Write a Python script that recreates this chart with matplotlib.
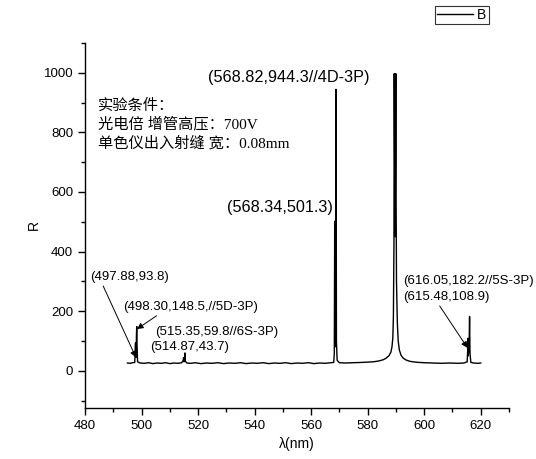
import matplotlib
matplotlib.use("Agg")
import matplotlib.pyplot as plt
from matplotlib.ticker import MultipleLocator

# Spectrum data
wavelength = [495.0, 496.0, 496.8, 497.6, 497.8, 497.88, 497.95, 498.1, 498.2, 498.30, 498.4, 498.6,
              499.5, 501.0, 502.5, 504.0, 505.5, 507.0, 508.5, 510.0, 511.5, 513.0, 514.2,
              514.75, 514.87, 515.0, 515.2, 515.35, 515.5, 516.0, 517.5, 519.0, 521.0, 523.0,
              525.0, 527.0, 529.0, 531.0, 533.0, 535.0, 537.0, 539.0, 541.0, 543.0, 545.0,
              547.0, 549.0, 551.0, 553.0, 555.0, 557.0, 559.0, 561.0, 563.0, 565.0, 567.0,
              568.0, 568.2, 568.34, 568.5, 568.7, 568.82, 568.95, 569.2, 570.0, 572.0, 575.0,
              578.0, 580.0, 582.0, 584.0, 585.5, 586.5, 587.5, 588.2, 588.6, 588.9, 589.1,
              589.3, 589.4, 589.55, 589.7, 589.85, 589.95, 590.05, 590.2, 590.5, 590.8, 591.2,
              591.8, 592.6, 593.6, 594.8, 596.0, 598.0, 600.0, 603.0, 606.0, 609.0, 612.0,
              614.0, 615.2, 615.4, 615.48, 615.6, 615.9, 616.05, 616.2, 616.5, 617.5, 619.0, 620.0]
intensity = [26, 25, 27, 28, 80, 93.8, 60, 45, 120, 148.5, 90, 30,
             26, 25, 27, 24, 26, 25, 27, 24, 26, 25, 27,
             35, 43.7, 30, 40, 59.8, 32, 26, 25, 27, 24, 26,
             25, 27, 24, 26, 25, 27, 24, 26, 25, 27, 24,
             26, 25, 27, 24, 26, 25, 27, 24, 26, 25, 27,
             28, 60, 501.3, 80, 120, 944.3, 100, 35, 27, 26, 27,
             28, 29, 30, 33, 37, 42, 50, 62, 80, 110, 180,
             420, 997, 700, 450, 700, 997, 600, 300, 160, 100, 70,
             52, 42, 36, 32, 30, 28, 27, 26, 25, 26, 25,
             26, 30, 70, 108.9, 50, 90, 182.2, 60, 28, 26, 25, 26]

peak_labels = ["(568.82,944.3//4D-3P)", "(568.34,501.3)", "(515.35,59.8//6S-3P)",
               "(514.87,43.7)", "(616.05,182.2//5S-3P)", "(497.88,93.8)",
               "(498.30,148.5,//5D-3P)", "(615.48,108.9)"]
note_lines = ["实验条件：", "光电倍 增管高压：700V", "单色仪出入射缝 宽：0.08mm"]

W, H = 536, 459
fig = plt.figure(figsize=(W / 100, H / 100), dpi=100)
ax = fig.add_axes([85 / W, 1 - 408 / H, 424 / W, 365 / H])

sans = ["Liberation Sans", "DejaVu Sans"]
ax.plot(wavelength, intensity, color="black", lw=1.0, label="B")

ax.set_xlim(480, 630)
ax.set_ylim(-125, 1100)
ax.xaxis.set_major_locator(MultipleLocator(20))
ax.xaxis.set_minor_locator(MultipleLocator(10))
ax.yaxis.set_major_locator(MultipleLocator(200))
ax.yaxis.set_minor_locator(MultipleLocator(100))
for s in ["top", "right"]:
    ax.spines[s].set_visible(False)
for s in ["left", "bottom"]:
    ax.spines[s].set_linewidth(1.0)
ax.tick_params(which="major", direction="out", length=5, width=1.0, labelsize=9.5)
ax.tick_params(which="minor", direction="out", length=3, width=1.0)
for lab in ax.get_xticklabels() + ax.get_yticklabels():
    lab.set_family(sans)

ax.set_xlabel("λ(nm)", fontsize=10, family=sans, labelpad=4)
ax.set_ylabel("R", fontsize=10, family=sans, labelpad=2)

big = 11.7
small = 9.5
ax.text(523.4, 983, peak_labels[0], fontsize=big, family=sans, va="center", ha="left")
ax.text(530.4, 548, peak_labels[1], fontsize=big, family=sans, va="center", ha="left")
ax.text(504.7, 130, peak_labels[2], fontsize=small, family=sans, va="center", ha="left")
ax.text(502.9, 80, peak_labels[3], fontsize=small, family=sans, va="center", ha="left")
ax.text(592.6, 301, peak_labels[4], fontsize=small, family=sans, va="center", ha="left",
        clip_on=False)

arrow = dict(arrowstyle="-|>", color="black", lw=0.7, mutation_scale=9, shrinkA=0, shrinkB=0)
ax.annotate(peak_labels[5], xy=(498.0, 45), xytext=(481.8, 314), fontsize=small, family=sans,
            va="center", ha="left", annotation_clip=False,
            arrowprops=dict(arrow, relpos=(0.15, 0.0)))
ax.annotate(peak_labels[6], xy=(498.4, 140), xytext=(493.4, 214), fontsize=small,
            family=sans, va="center", ha="left", annotation_clip=False,
            arrowprops=dict(arrow, relpos=(0.28, 0.0)))
ax.annotate(peak_labels[7], xy=(615.3, 77), xytext=(592.6, 247), fontsize=small, family=sans,
            va="center", ha="left", annotation_clip=False,
            arrowprops=dict(arrow, relpos=(0.4, 0.0)))

cjk = ["Liberation Serif", "Noto Sans CJK SC"]
for i, line in enumerate(note_lines):
    ax.text(484.5, 890 - i * 63, line, fontsize=11, family=cjk, va="center", ha="left")

leg = fig.legend(loc="upper left", bbox_to_anchor=(435 / W, 1 - 6 / H), prop={"family": sans, "size": 10},
                 frameon=True, fancybox=False, edgecolor="black", handlelength=2.6,
                 borderpad=0.15, handletextpad=0.3, borderaxespad=0)
leg.get_frame().set_linewidth(0.8)

fig.savefig("out.png", dpi=100)
